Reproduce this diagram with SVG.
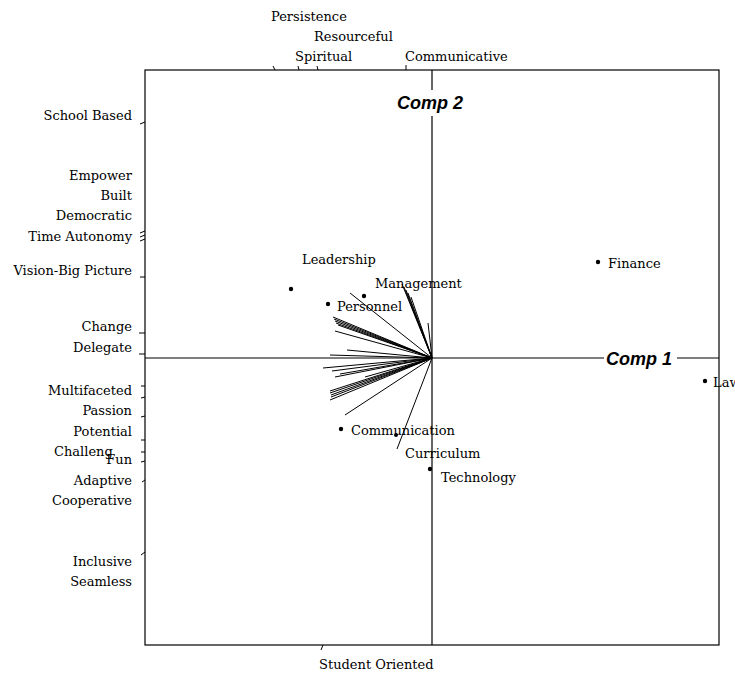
<svg xmlns="http://www.w3.org/2000/svg" width="735" height="675" viewBox="0 0 735 675">
<style>
.lbl{font-family:"DejaVu Serif","Liberation Serif",serif;font-size:13px;fill:#000}
.r{text-anchor:end}
.ax{font-family:"Liberation Sans",Arial,sans-serif;font-size:18px;font-weight:bold;font-style:italic;fill:#000}
.frame{fill:none;stroke:#000;stroke-width:1.2}
.axis{stroke:#000;stroke-width:1.2}
.vec line{stroke:#000;stroke-width:1}
.tick line{stroke:#000;stroke-width:1}
.dot{fill:#000}
</style>
<rect width="735" height="675" fill="#fff"/>
<g id="frame">
<rect class="frame" x="145" y="70" width="574" height="575"/>
<line class="axis" x1="432" y1="70" x2="432" y2="90"/>
<line class="axis" x1="432" y1="116" x2="432" y2="645"/>
<line class="axis" x1="145" y1="358" x2="604" y2="358"/>
<line class="axis" x1="677" y1="358" x2="719" y2="358"/>
<text class="ax" x="397" y="109">Comp 2</text>
<text class="ax" x="606" y="365">Comp 1</text>
</g>
<g id="connectors" class="vec">
<line x1="432" y1="358" x2="402" y2="284"/>
<line x1="432" y1="358" x2="404" y2="287"/>
<line x1="432" y1="358" x2="406" y2="290"/>
<line x1="432" y1="358" x2="408" y2="293"/>
<line x1="432" y1="358" x2="411" y2="297"/>
<line x1="432" y1="358" x2="428" y2="323"/>
<line x1="432" y1="358" x2="350" y2="293"/>
<line x1="432" y1="358" x2="333" y2="317"/>
<line x1="432" y1="358" x2="334" y2="319"/>
<line x1="432" y1="358" x2="335" y2="321"/>
<line x1="432" y1="358" x2="336" y2="323"/>
<line x1="432" y1="358" x2="338" y2="325"/>
<line x1="432" y1="358" x2="335" y2="331"/>
<line x1="432" y1="358" x2="347" y2="350"/>
<line x1="432" y1="358" x2="330" y2="355"/>
<line x1="432" y1="358" x2="323" y2="368"/>
<line x1="432" y1="358" x2="332" y2="371"/>
<line x1="432" y1="358" x2="340" y2="374"/>
<line x1="432" y1="358" x2="335" y2="377"/>
<line x1="432" y1="358" x2="365" y2="377"/>
<line x1="432" y1="358" x2="330" y2="391"/>
<line x1="432" y1="358" x2="330" y2="393"/>
<line x1="432" y1="358" x2="331" y2="395"/>
<line x1="432" y1="358" x2="331" y2="397"/>
<line x1="432" y1="358" x2="330" y2="400"/>
<line x1="432" y1="358" x2="345" y2="415"/>
<line x1="432" y1="358" x2="397" y2="449"/>
</g>
<g id="ticks" class="tick">
<line x1="273" y1="66" x2="275" y2="70"/>
<line x1="298" y1="66" x2="299" y2="70"/>
<line x1="317" y1="66" x2="318" y2="70"/>
<line x1="406" y1="65" x2="406" y2="70"/>
<line x1="140" y1="124" x2="145" y2="122"/>
<line x1="140" y1="233" x2="145" y2="231"/>
<line x1="140" y1="237" x2="145" y2="235"/>
<line x1="140" y1="241" x2="145" y2="239"/>
<line x1="140" y1="277" x2="145" y2="277"/>
<line x1="139" y1="333" x2="145" y2="333"/>
<line x1="139" y1="354" x2="145" y2="354"/>
<line x1="141" y1="386" x2="145" y2="386"/>
<line x1="141" y1="398" x2="145" y2="397"/>
<line x1="141" y1="417" x2="145" y2="416"/>
<line x1="141" y1="440" x2="145" y2="440"/>
<line x1="141" y1="452" x2="145" y2="452"/>
<line x1="141" y1="462" x2="145" y2="461"/>
<line x1="142" y1="482" x2="145" y2="480"/>
<line x1="141" y1="555" x2="145" y2="552"/>
<line x1="321" y1="650" x2="323" y2="645"/>
</g>
<g id="points">
<g id="p-leadership"><circle class="dot" cx="291" cy="289" r="2.2"/><text class="lbl" x="302" y="264">Leadership</text></g>
<g id="p-management"><circle class="dot" cx="364" cy="296" r="2.2"/><text class="lbl" x="375" y="288">Management</text></g>
<g id="p-personnel"><circle class="dot" cx="328" cy="304" r="2.2"/><text class="lbl" x="337" y="311">Personnel</text></g>
<g id="p-finance"><circle class="dot" cx="598" cy="262" r="2.2"/><text class="lbl" x="608" y="268">Finance</text></g>
<g id="p-law"><circle class="dot" cx="705" cy="381" r="2.2"/><text class="lbl" x="713" y="387">Law</text></g>
<g id="p-communication"><circle class="dot" cx="341" cy="429" r="2.2"/><text class="lbl" x="351" y="435">Communication</text></g>
<g id="p-curriculum"><circle class="dot" cx="396" cy="435" r="2"/><text class="lbl" x="405" y="458">Curriculum</text></g>
<g id="p-technology"><circle class="dot" cx="430" cy="469" r="2.2"/><text class="lbl" x="441" y="482">Technology</text></g>
</g>
<g id="labels-top">
<text class="lbl" x="271" y="21">Persistence</text>
<text class="lbl" x="314" y="41">Resourceful</text>
<text class="lbl" x="295" y="61">Spiritual</text>
<text class="lbl" x="405" y="61">Communicative</text>
</g>
<g id="labels-left">
<text class="lbl r" x="132" y="120">School Based</text>
<text class="lbl r" x="132" y="180">Empower</text>
<text class="lbl r" x="132" y="200">Built</text>
<text class="lbl r" x="132" y="220">Democratic</text>
<text class="lbl r" x="132" y="241">Time Autonomy</text>
<text class="lbl r" x="132" y="275">Vision-Big Picture</text>
<text class="lbl r" x="132" y="331">Change</text>
<text class="lbl r" x="132" y="352">Delegate</text>
<text class="lbl r" x="132" y="395">Multifaceted</text>
<text class="lbl r" x="132" y="415">Passion</text>
<text class="lbl r" x="132" y="436">Potential</text>
<text class="lbl" x="54" y="456">Challeng</text>
<text class="lbl r" x="132" y="464">Fun</text>
<text class="lbl r" x="132" y="485">Adaptive</text>
<text class="lbl r" x="132" y="505">Cooperative</text>
<text class="lbl r" x="132" y="566">Inclusive</text>
<text class="lbl r" x="132" y="586">Seamless</text>
</g>
<g id="labels-bottom">
<text class="lbl" x="319" y="669">Student Oriented</text>
</g>
</svg>
